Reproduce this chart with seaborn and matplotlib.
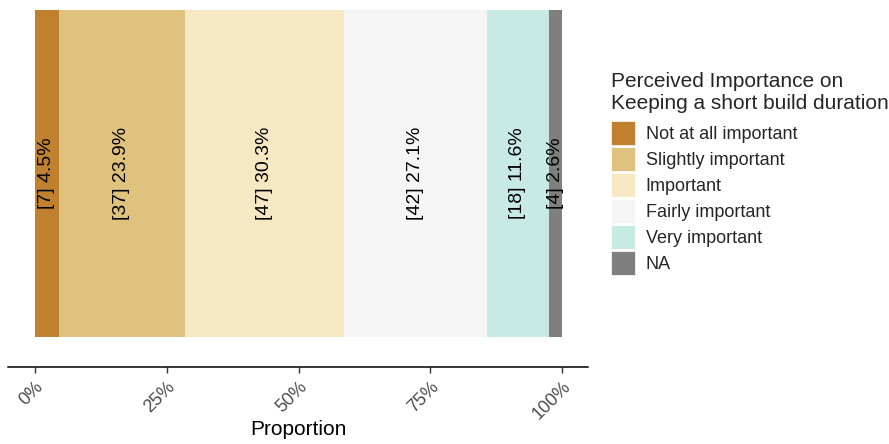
import matplotlib
matplotlib.use("Agg")
import matplotlib.pyplot as plt
import matplotlib.transforms as mtransforms
import seaborn as sns
import numpy as np
import pandas as pd
from matplotlib.patches import Patch

categories = ["Not at all important", "Slightly important", "Important",
              "Fairly important", "Very important", "NA"]
counts = [7, 37, 47, 42, 18, 4]
colors = ["#BF812D", "#DFC27D", "#F6E8C3", "#F5F5F5", "#C7EAE5", "#7F7F7F"]
tick_values = [0, 0.25, 0.5, 0.75, 1.0]
tick_labels = ["0%", "25%", "50%", "75%", "100%"]
legend_title = "Perceived Importance on\nKeeping a short build duration"
x_label = "Proportion"

sns.set_theme(style="white")
plt.rcParams["font.family"] = ["Liberation Sans", "DejaVu Sans"]

total = sum(counts)
props = np.array(counts) / total
cum = np.cumsum(props)

fig = plt.figure(figsize=(8.89, 4.44), dpi=100)
ax = fig.add_axes([8/889, 1 - 367/444, (588 - 8)/889, (367 - 10)/444])

# draw stacked bar: largest cumulative first so smaller ones overlay
for i in reversed(range(len(categories))):
    df = pd.DataFrame({"y": ["q"], "x": [cum[i]]})
    sns.barplot(data=df, x="x", y="y", orient="h", color=colors[i],
                saturation=1, width=1.0, ax=ax, linewidth=0)

starts = cum - props
for c, s, p in zip(counts, starts, props):
    ax.text(s + p / 2, 0, f"[{c}] {p*100:.1f}%", rotation=90,
            ha="center", va="center", fontsize=14, color="black")

ax.set_xlim(-0.0512, 1.049)
ax.set_ylim(0.5 + 0.0917, -0.5)
ax.set_yticks([])
ax.set_ylabel("")
ax.set_xticks(tick_values)
ax.set_xticklabels(tick_labels, rotation=45, ha="right", va="top",
                   rotation_mode="anchor", fontsize=13, color="#4D4D4D")
offset = mtransforms.ScaledTranslation(3/100, 0, fig.dpi_scale_trans)
for lab in ax.get_xticklabels():
    lab.set_transform(lab.get_transform() + offset)
ax.tick_params(axis="x", length=4, width=1, color="#333333", pad=4, bottom=True)
ax.set_xlabel(x_label, fontsize=15, color="black")
ax.xaxis.set_label_coords(0.5, -0.148)
for side in ["top", "right", "left"]:
    ax.spines[side].set_visible(False)
ax.spines["bottom"].set_color("black")
ax.spines["bottom"].set_linewidth(1.1)
ax.set_facecolor("white")

handles = [Patch(facecolor=col, edgecolor="white", linewidth=0.5) for col in colors]
leg = fig.legend(handles, categories, title=legend_title, loc="upper left",
                 bbox_to_anchor=(611/889, 1 - 72/444), frameon=False,
                 fontsize=13, title_fontsize=15, handlelength=1.33,
                 handleheight=1.667, labelspacing=0.11, handletextpad=0.6,
                 borderpad=0, borderaxespad=0, alignment="left")
leg._legend_box.sep = 6

fig.savefig("out.png", dpi=100, facecolor="white")
